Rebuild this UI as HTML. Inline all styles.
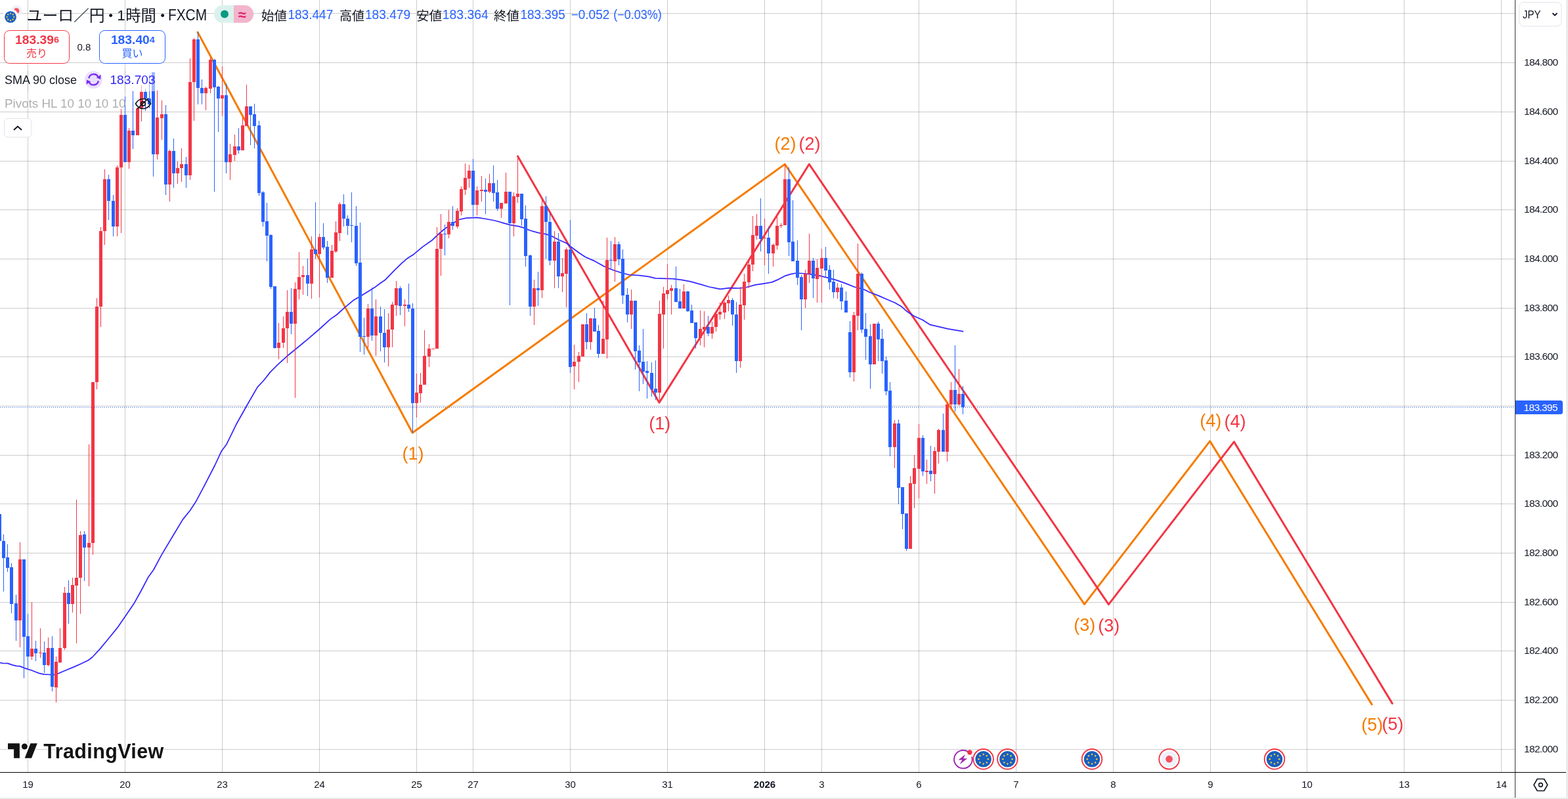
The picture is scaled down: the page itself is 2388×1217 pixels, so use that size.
<!DOCTYPE html>
<html lang="ja"><head><meta charset="utf-8"><title>EURJPY 1h</title>
<style>
html,body{margin:0;padding:0;background:#fff;}
body{width:2388px;height:1217px;overflow:hidden;position:relative;font-family:"Liberation Sans","Noto Sans CJK JP",sans-serif;color:#131722;}
.a{position:absolute;white-space:nowrap;}
.box{position:absolute;border:1px solid;border-radius:8px;box-sizing:border-box;text-align:center;background:#fff;}
.box .p{font-weight:bold;font-size:18px;line-height:20px;margin-top:5px;}
.box .l{font-size:16px;line-height:18px;margin-top:1px;}
</style></head><body>
<svg width="2388" height="1217" viewBox="0 0 2388 1217" style="position:absolute;left:0;top:0"><g fill="#000" fill-opacity="0.2"><rect x="0" y="20" width="2307" height="1"/><rect x="0" y="95" width="2307" height="1"/><rect x="0" y="170" width="2307" height="1"/><rect x="0" y="245" width="2307" height="1"/><rect x="0" y="319" width="2307" height="1"/><rect x="0" y="394" width="2307" height="1"/><rect x="0" y="469" width="2307" height="1"/><rect x="0" y="543" width="2307" height="1"/><rect x="0" y="618" width="2307" height="1"/><rect x="0" y="693" width="2307" height="1"/><rect x="0" y="767" width="2307" height="1"/><rect x="0" y="842" width="2307" height="1"/><rect x="0" y="917" width="2307" height="1"/><rect x="0" y="991" width="2307" height="1"/><rect x="0" y="1066" width="2307" height="1"/><rect x="0" y="1141" width="2307" height="1"/><rect x="42" y="0" width="1" height="1176"/><rect x="190" y="0" width="1" height="1176"/><rect x="338" y="0" width="1" height="1176"/><rect x="486" y="0" width="1" height="1176"/><rect x="634" y="0" width="1" height="1176"/><rect x="720" y="0" width="1" height="1176"/><rect x="868" y="0" width="1" height="1176"/><rect x="1016" y="0" width="1" height="1176"/><rect x="1164" y="0" width="1" height="1176"/><rect x="1251" y="0" width="1" height="1176"/><rect x="1399" y="0" width="1" height="1176"/><rect x="1547" y="0" width="1" height="1176"/><rect x="1695" y="0" width="1" height="1176"/><rect x="1843" y="0" width="1" height="1176"/><rect x="1990" y="0" width="1" height="1176"/><rect x="2138" y="0" width="1" height="1176"/><rect x="2286" y="0" width="1" height="1176"/></g><line x1="0" y1="620.5" x2="2307" y2="620.5" stroke="#2962FF" stroke-width="1" stroke-dasharray="1 2"/><polyline points="301,49 628.1,659.2 1195.3,250.1 1651.5,920.3 1842.7,671.9 2089.2,1072.9" fill="none" stroke="#F57C00" stroke-width="3" stroke-linejoin="round" stroke-linecap="round"/><polyline points="788.5,238 1004,613.2 1232.3,250.1 1688.4,920.7 1879.4,672.9 2120.3,1071.4" fill="none" stroke="#F23645" stroke-width="3" stroke-linejoin="round" stroke-linecap="round"/><polyline points="0.0,1009.4 5.4,1010.5 11.7,1010.4 18.8,1012.8 25.1,1014.3 30.6,1014.9 36.9,1017.4 42.7,1019.3 48.2,1021.0 54.4,1023.5 59.9,1025.6 67.0,1027.2 75.4,1027.5 82.9,1027.5 87.9,1026.2 94.2,1023.5 100.0,1021.0 113.0,1015.6 123.4,1011.0 134.3,1005.8 140.6,1001.0 152.1,988.6 163.6,974.8 178.6,956.4 190.1,939.7 203.9,919.6 214.8,900.0 225.9,878.9 233.8,868.0 245.8,845.6 262.0,818.5 278.3,791.4 289.1,778.0 298.2,764.3 312.6,737.2 327.1,709.0 337.2,687.3 345.2,676.4 359.6,646.8 375.9,617.8 392.1,589.6 401.2,580.0 411.5,566.9 423.0,555.4 436.8,542.8 455.2,527.8 469.0,516.3 485.1,502.5 503.5,485.9 512.7,479.5 524.2,469.1 538.0,457.6 549.5,450.7 561.0,443.8 570.2,438.1 579.4,431.2 586.3,426.6 600.1,412.3 611.6,401.2 620.8,393.2 630.0,387.4 643.8,375.9 657.6,366.3 666.9,357.5 676.0,349.5 687.6,341.4 699.0,334.5 710.1,332.1 726.9,331.4 740.3,333.5 753.7,336.0 765.4,339.3 777.1,342.7 790.5,344.8 797.2,346.9 807.3,351.0 819.0,354.4 832.4,356.9 840.8,359.9 850.8,365.3 862.5,370.3 870.9,377.0 881.0,384.5 891.0,391.2 904.4,397.1 919.5,405.5 931.2,410.5 946.3,415.5 958.0,418.5 974.8,419.7 988.2,421.4 998.2,423.9 1015.0,424.4 1025.0,424.7 1038.4,426.4 1051.8,428.9 1066.9,433.1 1080.0,437.0 1088.4,438.6 1096.8,440.3 1110.2,438.6 1126.9,439.0 1137.0,437.5 1150.4,433.9 1163.8,431.9 1175.5,429.9 1185.5,425.6 1195.6,420.2 1204.0,417.7 1212.3,416.0 1222.4,416.5 1234.1,417.7 1247.5,419.9 1260.9,423.2 1274.3,426.9 1287.7,431.6 1301.1,437.0 1314.5,440.3 1324.6,445.3 1338.0,450.4 1351.4,456.2 1363.1,461.2 1373.1,467.1 1381.5,474.6 1391.6,481.3 1405.0,487.2 1416.7,494.7 1431.8,498.1 1443.5,500.9 1456.9,503.1 1467.3,504.8" fill="none" stroke="#3326FF" stroke-width="1.75" stroke-linejoin="round"/><g fill="#F23645" shape-rendering="crispEdges"><rect x="30" y="825.8" width="1" height="160.0"/><rect x="28" y="852.0" width="5" height="92.7"/><rect x="48" y="917.0" width="1" height="87.7"/><rect x="46" y="988.4" width="5" height="11.6"/><rect x="61" y="956.8" width="1" height="45.2"/><rect x="59" y="993.7" width="5" height="1.3"/><rect x="73" y="971.0" width="1" height="43.7"/><rect x="71" y="987.0" width="5" height="26.4"/><rect x="85" y="1000.0" width="1" height="70.0"/><rect x="83" y="1008.0" width="5" height="38.8"/><rect x="91" y="957.0" width="1" height="52.7"/><rect x="89" y="986.6" width="5" height="22.4"/><rect x="98" y="894.0" width="1" height="95.5"/><rect x="96" y="903.0" width="5" height="84.4"/><rect x="110" y="879.5" width="1" height="53.5"/><rect x="108" y="891.0" width="5" height="28.7"/><rect x="116" y="761.0" width="1" height="218.5"/><rect x="114" y="879.5" width="5" height="12.3"/><rect x="122" y="809.0" width="1" height="125.7"/><rect x="120" y="814.5" width="5" height="65.5"/><rect x="135" y="677.4" width="1" height="215.2"/><rect x="133" y="827.4" width="5" height="6.3"/><rect x="141" y="581.6" width="1" height="263.1"/><rect x="139" y="581.6" width="5" height="245.8"/><rect x="147" y="454.0" width="1" height="138.6"/><rect x="145" y="467.3" width="5" height="114.7"/><rect x="153" y="346.0" width="1" height="151.6"/><rect x="151" y="351.5" width="5" height="115.8"/><rect x="159" y="258.0" width="1" height="114.6"/><rect x="157" y="273.0" width="5" height="78.5"/><rect x="178" y="251.7" width="1" height="108.0"/><rect x="176" y="255.4" width="5" height="89.6"/><rect x="184" y="166.0" width="1" height="188.5"/><rect x="182" y="175.0" width="5" height="80.4"/><rect x="196" y="195.0" width="1" height="62.0"/><rect x="194" y="199.0" width="5" height="47.8"/><rect x="209" y="164.0" width="1" height="41.8"/><rect x="207" y="165.0" width="5" height="40.8"/><rect x="215" y="129.8" width="1" height="55.2"/><rect x="213" y="139.8" width="5" height="25.2"/><rect x="239" y="138.3" width="1" height="104.6"/><rect x="237" y="179.0" width="5" height="55.7"/><rect x="246" y="153.0" width="1" height="60.0"/><rect x="244" y="174.0" width="5" height="5.6"/><rect x="258" y="228.4" width="1" height="78.3"/><rect x="256" y="229.8" width="5" height="51.0"/><rect x="270" y="246.0" width="1" height="34.0"/><rect x="268" y="255.9" width="5" height="7.8"/><rect x="276" y="226.0" width="1" height="51.0"/><rect x="274" y="249.7" width="5" height="6.7"/><rect x="289" y="89.0" width="1" height="184.5"/><rect x="287" y="125.4" width="5" height="141.9"/><rect x="295" y="58.2" width="1" height="125.3"/><rect x="293" y="59.9" width="5" height="65.5"/><rect x="313" y="131.8" width="1" height="35.9"/><rect x="311" y="134.2" width="5" height="7.6"/><rect x="320" y="86.6" width="1" height="55.2"/><rect x="318" y="91.0" width="5" height="43.6"/><rect x="338" y="101.0" width="1" height="76.0"/><rect x="336" y="145.0" width="5" height="5.0"/><rect x="350" y="218.9" width="1" height="54.6"/><rect x="348" y="234.9" width="5" height="11.9"/><rect x="357" y="205.0" width="1" height="40.0"/><rect x="355" y="223.0" width="5" height="13.0"/><rect x="369" y="179.4" width="1" height="49.3"/><rect x="367" y="191.0" width="5" height="37.7"/><rect x="375" y="129.0" width="1" height="62.7"/><rect x="373" y="162.0" width="5" height="29.5"/><rect x="424" y="492.0" width="1" height="54.7"/><rect x="422" y="522.4" width="5" height="7.1"/><rect x="431" y="482.4" width="1" height="47.6"/><rect x="429" y="500.0" width="5" height="22.4"/><rect x="437" y="442.0" width="1" height="110.6"/><rect x="435" y="475.0" width="5" height="25.0"/><rect x="449" y="429.5" width="1" height="176.0"/><rect x="447" y="440.0" width="5" height="52.9"/><rect x="455" y="384.3" width="1" height="71.9"/><rect x="453" y="422.0" width="5" height="18.7"/><rect x="461" y="405.0" width="1" height="43.6"/><rect x="459" y="419.0" width="5" height="3.4"/><rect x="474" y="359.8" width="1" height="94.7"/><rect x="472" y="380.0" width="5" height="52.4"/><rect x="486" y="356.0" width="1" height="96.6"/><rect x="484" y="361.0" width="5" height="25.7"/><rect x="505" y="373.2" width="1" height="49.5"/><rect x="503" y="382.4" width="5" height="40.3"/><rect x="511" y="337.0" width="1" height="47.7"/><rect x="509" y="354.0" width="5" height="28.9"/><rect x="517" y="308.0" width="1" height="59.0"/><rect x="515" y="311.0" width="5" height="43.8"/><rect x="560" y="463.0" width="1" height="67.0"/><rect x="558" y="470.0" width="5" height="42.8"/><rect x="572" y="456.2" width="1" height="86.2"/><rect x="570" y="482.4" width="5" height="28.4"/><rect x="591" y="477.0" width="1" height="80.8"/><rect x="589" y="501.6" width="5" height="27.0"/><rect x="597" y="459.8" width="1" height="69.2"/><rect x="595" y="464.0" width="5" height="37.6"/><rect x="603" y="428.2" width="1" height="52.7"/><rect x="601" y="439.0" width="5" height="25.7"/><rect x="616" y="456.2" width="1" height="40.4"/><rect x="614" y="464.0" width="5" height="1.5"/><rect x="634" y="569.0" width="1" height="66.8"/><rect x="632" y="598.0" width="5" height="16.2"/><rect x="640" y="567.8" width="1" height="45.2"/><rect x="638" y="585.5" width="5" height="13.3"/><rect x="646" y="503.3" width="1" height="82.2"/><rect x="644" y="542.0" width="5" height="43.5"/><rect x="653" y="524.0" width="1" height="34.9"/><rect x="651" y="530.8" width="5" height="11.8"/><rect x="659" y="530.8" width="1" height="1.2"/><rect x="657" y="530.8" width="5" height="1.2"/><rect x="665" y="345.9" width="1" height="185.5"/><rect x="663" y="379.3" width="5" height="152.1"/><rect x="671" y="326.0" width="1" height="93.8"/><rect x="669" y="356.2" width="5" height="23.1"/><rect x="683" y="320.0" width="1" height="42.7"/><rect x="681" y="337.9" width="5" height="18.9"/><rect x="696" y="317.3" width="1" height="30.5"/><rect x="694" y="321.0" width="5" height="23.6"/><rect x="702" y="284.0" width="1" height="44.0"/><rect x="700" y="288.2" width="5" height="33.3"/><rect x="708" y="249.0" width="1" height="47.9"/><rect x="706" y="271.2" width="5" height="17.7"/><rect x="714" y="251.0" width="1" height="34.7"/><rect x="712" y="260.0" width="5" height="11.6"/><rect x="726" y="284.0" width="1" height="44.0"/><rect x="724" y="290.2" width="5" height="21.5"/><rect x="733" y="268.0" width="1" height="38.7"/><rect x="731" y="289.2" width="5" height="1.5"/><rect x="745" y="265.0" width="1" height="28.6"/><rect x="743" y="279.0" width="5" height="12.8"/><rect x="763" y="309.0" width="1" height="22.8"/><rect x="761" y="309.0" width="5" height="8.6"/><rect x="770" y="263.1" width="1" height="46.4"/><rect x="768" y="292.1" width="5" height="17.4"/><rect x="782" y="293.0" width="1" height="67.4"/><rect x="780" y="299.2" width="5" height="40.5"/><rect x="788" y="239.3" width="1" height="69.4"/><rect x="786" y="295.3" width="5" height="4.3"/><rect x="813" y="426.0" width="1" height="68.8"/><rect x="811" y="439.0" width="5" height="27.5"/><rect x="825" y="305.3" width="1" height="148.2"/><rect x="823" y="314.0" width="5" height="128.3"/><rect x="844" y="352.4" width="1" height="87.0"/><rect x="842" y="368.0" width="5" height="28.6"/><rect x="856" y="393.4" width="1" height="51.3"/><rect x="854" y="415.9" width="5" height="4.9"/><rect x="862" y="377.0" width="1" height="90.8"/><rect x="860" y="380.0" width="5" height="36.5"/><rect x="874" y="524.8" width="1" height="68.0"/><rect x="872" y="550.5" width="5" height="7.9"/><rect x="881" y="536.0" width="1" height="45.5"/><rect x="879" y="542.0" width="5" height="8.5"/><rect x="887" y="493.8" width="1" height="49.2"/><rect x="885" y="493.8" width="5" height="48.8"/><rect x="899" y="483.6" width="1" height="49.8"/><rect x="897" y="484.9" width="5" height="35.7"/><rect x="918" y="457.5" width="1" height="81.2"/><rect x="916" y="516.3" width="5" height="22.4"/><rect x="924" y="362.0" width="1" height="183.6"/><rect x="922" y="396.2" width="5" height="120.5"/><rect x="936" y="360.8" width="1" height="67.9"/><rect x="934" y="372.2" width="5" height="25.4"/><rect x="961" y="441.0" width="1" height="59.8"/><rect x="959" y="458.2" width="5" height="20.4"/><rect x="1004" y="458.1" width="1" height="152.6"/><rect x="1002" y="478.1" width="5" height="119.6"/><rect x="1010" y="437.3" width="1" height="93.5"/><rect x="1008" y="447.0" width="5" height="31.5"/><rect x="1016" y="402.2" width="1" height="53.5"/><rect x="1014" y="442.1" width="5" height="5.7"/><rect x="1022" y="434.0" width="1" height="44.8"/><rect x="1020" y="439.2" width="5" height="3.7"/><rect x="1041" y="433.0" width="1" height="36.8"/><rect x="1039" y="444.0" width="5" height="25.8"/><rect x="1066" y="472.9" width="1" height="52.8"/><rect x="1064" y="501.3" width="5" height="14.1"/><rect x="1072" y="474.0" width="1" height="54.7"/><rect x="1070" y="498.3" width="5" height="3.7"/><rect x="1084" y="490.0" width="1" height="25.6"/><rect x="1082" y="498.0" width="5" height="9.6"/><rect x="1090" y="477.0" width="1" height="27.8"/><rect x="1088" y="478.1" width="5" height="20.3"/><rect x="1096" y="460.6" width="1" height="26.1"/><rect x="1094" y="475.3" width="5" height="3.2"/><rect x="1103" y="458.9" width="1" height="26.7"/><rect x="1101" y="461.0" width="5" height="14.6"/><rect x="1109" y="449.9" width="1" height="24.4"/><rect x="1107" y="457.4" width="5" height="4.1"/><rect x="1127" y="436.5" width="1" height="123.2"/><rect x="1125" y="464.2" width="5" height="85.5"/><rect x="1133" y="417.2" width="1" height="69.5"/><rect x="1131" y="429.4" width="5" height="35.3"/><rect x="1140" y="398.6" width="1" height="40.0"/><rect x="1138" y="403.3" width="5" height="26.7"/><rect x="1146" y="329.0" width="1" height="84.0"/><rect x="1144" y="358.0" width="5" height="45.3"/><rect x="1152" y="326.0" width="1" height="39.2"/><rect x="1150" y="344.2" width="5" height="14.3"/><rect x="1164" y="333.0" width="1" height="71.0"/><rect x="1162" y="361.8" width="5" height="1.2"/><rect x="1177" y="371.4" width="1" height="34.2"/><rect x="1175" y="372.9" width="5" height="12.8"/><rect x="1183" y="329.7" width="1" height="50.3"/><rect x="1181" y="344.3" width="5" height="29.7"/><rect x="1189" y="340.0" width="1" height="7.3"/><rect x="1187" y="342.6" width="5" height="1.4"/><rect x="1195" y="249.6" width="1" height="93.4"/><rect x="1193" y="273.1" width="5" height="69.9"/><rect x="1226" y="411.0" width="1" height="57.8"/><rect x="1224" y="417.0" width="5" height="38.6"/><rect x="1232" y="356.3" width="1" height="74.3"/><rect x="1230" y="397.0" width="5" height="20.4"/><rect x="1244" y="395.0" width="1" height="65.8"/><rect x="1242" y="408.2" width="5" height="16.4"/><rect x="1251" y="379.2" width="1" height="81.6"/><rect x="1249" y="393.0" width="5" height="15.8"/><rect x="1275" y="430.9" width="1" height="23.6"/><rect x="1273" y="438.4" width="5" height="6.3"/><rect x="1300" y="475.4" width="1" height="105.1"/><rect x="1298" y="480.1" width="5" height="86.6"/><rect x="1306" y="371.1" width="1" height="131.6"/><rect x="1304" y="417.3" width="5" height="63.4"/><rect x="1331" y="492.5" width="1" height="62.4"/><rect x="1329" y="493.1" width="5" height="61.8"/><rect x="1362" y="640.2" width="1" height="72.5"/><rect x="1360" y="644.8" width="5" height="36.1"/><rect x="1386" y="725.3" width="1" height="110.5"/><rect x="1384" y="736.1" width="5" height="99.7"/><rect x="1392" y="693.1" width="1" height="80.5"/><rect x="1390" y="713.1" width="5" height="23.7"/><rect x="1399" y="645.9" width="1" height="113.2"/><rect x="1397" y="667.1" width="5" height="46.7"/><rect x="1411" y="700.0" width="1" height="36.8"/><rect x="1409" y="717.3" width="5" height="1.8"/><rect x="1423" y="681.3" width="1" height="70.5"/><rect x="1421" y="687.0" width="5" height="34.9"/><rect x="1429" y="652.8" width="1" height="52.9"/><rect x="1427" y="654.8" width="5" height="32.8"/><rect x="1442" y="613.4" width="1" height="89.4"/><rect x="1440" y="616.0" width="5" height="71.6"/><rect x="1448" y="582.0" width="1" height="40.0"/><rect x="1446" y="594.0" width="5" height="22.3"/><rect x="1460" y="561.7" width="1" height="56.1"/><rect x="1458" y="600.0" width="5" height="15.5"/></g><g fill="#2962FF" shape-rendering="crispEdges"><rect x="-1" y="783.0" width="1" height="41.0"/><rect x="-3" y="783.0" width="5" height="41.0"/><rect x="5" y="814.0" width="1" height="87.0"/><rect x="3" y="824.0" width="5" height="25.5"/><rect x="11" y="829.0" width="1" height="41.5"/><rect x="9" y="849.0" width="5" height="15.7"/><rect x="17" y="858.0" width="1" height="75.7"/><rect x="15" y="864.0" width="5" height="55.7"/><rect x="24" y="906.0" width="1" height="69.8"/><rect x="22" y="919.0" width="5" height="25.7"/><rect x="36" y="852.0" width="1" height="181.0"/><rect x="34" y="852.0" width="5" height="117.7"/><rect x="42" y="935.0" width="1" height="83.0"/><rect x="40" y="969.0" width="5" height="31.0"/><rect x="54" y="976.0" width="1" height="31.0"/><rect x="52" y="988.0" width="5" height="6.7"/><rect x="67" y="977.0" width="1" height="47.5"/><rect x="65" y="994.0" width="5" height="18.6"/><rect x="79" y="969.0" width="1" height="83.6"/><rect x="77" y="987.0" width="5" height="59.0"/><rect x="104" y="884.0" width="1" height="66.0"/><rect x="102" y="903.0" width="5" height="16.7"/><rect x="128" y="809.0" width="1" height="75.7"/><rect x="126" y="814.0" width="5" height="19.7"/><rect x="165" y="265.8" width="1" height="69.2"/><rect x="163" y="273.0" width="5" height="33.4"/><rect x="172" y="296.8" width="1" height="62.9"/><rect x="170" y="306.4" width="5" height="38.6"/><rect x="190" y="147.0" width="1" height="99.8"/><rect x="188" y="175.0" width="5" height="71.8"/><rect x="202" y="138.0" width="1" height="89.0"/><rect x="200" y="199.0" width="5" height="6.8"/><rect x="221" y="135.2" width="1" height="33.5"/><rect x="219" y="139.8" width="5" height="10.2"/><rect x="227" y="113.6" width="1" height="51.2"/><rect x="225" y="150.0" width="5" height="8.6"/><rect x="233" y="110.0" width="1" height="159.0"/><rect x="231" y="110.0" width="5" height="124.7"/><rect x="252" y="160.0" width="1" height="136.7"/><rect x="250" y="174.0" width="5" height="106.8"/><rect x="264" y="211.0" width="1" height="75.0"/><rect x="262" y="229.8" width="5" height="33.9"/><rect x="283" y="239.0" width="1" height="46.8"/><rect x="281" y="250.3" width="5" height="17.0"/><rect x="301" y="49.0" width="1" height="109.5"/><rect x="299" y="59.9" width="5" height="74.3"/><rect x="307" y="120.9" width="1" height="37.6"/><rect x="305" y="134.2" width="5" height="7.6"/><rect x="326" y="90.0" width="1" height="202.0"/><rect x="324" y="91.0" width="5" height="42.2"/><rect x="332" y="131.0" width="1" height="70.0"/><rect x="330" y="132.2" width="5" height="17.8"/><rect x="344" y="127.0" width="1" height="136.6"/><rect x="342" y="145.0" width="5" height="101.8"/><rect x="363" y="194.8" width="1" height="39.1"/><rect x="361" y="223.0" width="5" height="5.7"/><rect x="381" y="162.2" width="1" height="59.1"/><rect x="379" y="162.2" width="5" height="12.3"/><rect x="387" y="157.7" width="1" height="68.1"/><rect x="385" y="174.0" width="5" height="17.8"/><rect x="394" y="183.9" width="1" height="113.8"/><rect x="392" y="191.0" width="5" height="103.0"/><rect x="400" y="290.8" width="1" height="53.8"/><rect x="398" y="292.8" width="5" height="44.9"/><rect x="406" y="309.0" width="1" height="88.8"/><rect x="404" y="337.2" width="5" height="21.4"/><rect x="412" y="357.0" width="1" height="83.0"/><rect x="410" y="358.0" width="5" height="78.5"/><rect x="418" y="436.4" width="1" height="94.6"/><rect x="416" y="436.4" width="5" height="93.1"/><rect x="443" y="439.0" width="1" height="69.6"/><rect x="441" y="475.0" width="5" height="17.9"/><rect x="468" y="393.8" width="1" height="56.9"/><rect x="466" y="419.0" width="5" height="13.4"/><rect x="480" y="308.0" width="1" height="86.0"/><rect x="478" y="380.0" width="5" height="6.7"/><rect x="492" y="340.0" width="1" height="40.0"/><rect x="490" y="361.0" width="5" height="15.5"/><rect x="498" y="367.0" width="1" height="63.7"/><rect x="496" y="376.0" width="5" height="46.7"/><rect x="523" y="296.0" width="1" height="49.0"/><rect x="521" y="311.0" width="5" height="21.5"/><rect x="529" y="328.3" width="1" height="29.5"/><rect x="527" y="332.5" width="5" height="11.2"/><rect x="535" y="293.0" width="1" height="75.6"/><rect x="533" y="342.6" width="5" height="1.2"/><rect x="542" y="314.0" width="1" height="91.4"/><rect x="540" y="344.0" width="5" height="56.8"/><rect x="548" y="338.7" width="1" height="197.3"/><rect x="546" y="400.0" width="5" height="112.6"/><rect x="554" y="483.7" width="1" height="56.3"/><rect x="552" y="512.0" width="5" height="1.2"/><rect x="566" y="437.9" width="1" height="81.4"/><rect x="564" y="470.0" width="5" height="40.8"/><rect x="579" y="467.0" width="1" height="68.0"/><rect x="577" y="482.4" width="5" height="24.1"/><rect x="585" y="471.0" width="1" height="80.9"/><rect x="583" y="506.5" width="5" height="22.1"/><rect x="609" y="436.0" width="1" height="44.0"/><rect x="607" y="439.0" width="5" height="26.5"/><rect x="622" y="432.0" width="1" height="43.0"/><rect x="620" y="464.0" width="5" height="6.4"/><rect x="628" y="462.0" width="1" height="197.0"/><rect x="626" y="470.0" width="5" height="144.4"/><rect x="677" y="342.0" width="1" height="46.8"/><rect x="675" y="355.6" width="5" height="1.2"/><rect x="689" y="314.0" width="1" height="35.7"/><rect x="687" y="337.7" width="5" height="6.7"/><rect x="720" y="242.0" width="1" height="87.6"/><rect x="718" y="260.0" width="5" height="51.7"/><rect x="739" y="272.2" width="1" height="53.5"/><rect x="737" y="289.2" width="5" height="2.4"/><rect x="751" y="252.2" width="1" height="54.5"/><rect x="749" y="279.0" width="5" height="14.6"/><rect x="757" y="274.0" width="1" height="46.7"/><rect x="755" y="293.1" width="5" height="24.5"/><rect x="776" y="292.1" width="1" height="173.2"/><rect x="774" y="292.1" width="5" height="47.5"/><rect x="794" y="295.2" width="1" height="49.0"/><rect x="792" y="295.3" width="5" height="38.4"/><rect x="800" y="313.0" width="1" height="92.6"/><rect x="798" y="333.3" width="5" height="56.4"/><rect x="807" y="387.6" width="1" height="93.0"/><rect x="805" y="389.4" width="5" height="77.1"/><rect x="819" y="414.0" width="1" height="51.8"/><rect x="817" y="439.0" width="5" height="3.3"/><rect x="831" y="299.0" width="1" height="94.9"/><rect x="829" y="314.0" width="5" height="23.5"/><rect x="837" y="324.3" width="1" height="79.5"/><rect x="835" y="337.5" width="5" height="59.1"/><rect x="850" y="354.5" width="1" height="84.9"/><rect x="848" y="368.0" width="5" height="52.7"/><rect x="868" y="334.7" width="1" height="232.9"/><rect x="866" y="380.0" width="5" height="179.0"/><rect x="893" y="477.2" width="1" height="54.5"/><rect x="891" y="493.8" width="5" height="26.8"/><rect x="905" y="469.3" width="1" height="35.2"/><rect x="903" y="484.9" width="5" height="19.6"/><rect x="911" y="495.0" width="1" height="49.7"/><rect x="909" y="504.0" width="5" height="34.7"/><rect x="930" y="366.8" width="1" height="42.2"/><rect x="928" y="396.2" width="5" height="1.2"/><rect x="942" y="368.0" width="1" height="36.4"/><rect x="940" y="372.2" width="5" height="22.3"/><rect x="948" y="380.0" width="1" height="82.6"/><rect x="946" y="394.3" width="5" height="55.5"/><rect x="955" y="438.7" width="1" height="52.1"/><rect x="953" y="449.1" width="5" height="29.5"/><rect x="967" y="458.2" width="1" height="104.7"/><rect x="965" y="458.2" width="5" height="76.3"/><rect x="973" y="526.3" width="1" height="69.4"/><rect x="971" y="534.0" width="5" height="17.8"/><rect x="979" y="500.8" width="1" height="83.8"/><rect x="977" y="551.1" width="5" height="14.4"/><rect x="985" y="550.2" width="1" height="57.2"/><rect x="983" y="564.6" width="5" height="3.8"/><rect x="992" y="551.8" width="1" height="52.0"/><rect x="990" y="568.0" width="5" height="24.5"/><rect x="998" y="548.9" width="1" height="59.6"/><rect x="996" y="592.1" width="5" height="5.6"/><rect x="1029" y="405.9" width="1" height="54.0"/><rect x="1027" y="439.2" width="5" height="20.7"/><rect x="1035" y="439.9" width="1" height="29.9"/><rect x="1033" y="459.1" width="5" height="10.7"/><rect x="1047" y="442.9" width="1" height="31.8"/><rect x="1045" y="444.0" width="5" height="30.2"/><rect x="1053" y="464.0" width="1" height="27.7"/><rect x="1051" y="473.2" width="5" height="18.5"/><rect x="1059" y="491.2" width="1" height="39.7"/><rect x="1057" y="491.2" width="5" height="24.2"/><rect x="1078" y="481.3" width="1" height="30.4"/><rect x="1076" y="498.3" width="5" height="9.2"/><rect x="1115" y="454.2" width="1" height="41.4"/><rect x="1113" y="457.4" width="5" height="21.8"/><rect x="1121" y="460.0" width="1" height="107.9"/><rect x="1119" y="479.2" width="5" height="70.5"/><rect x="1158" y="302.0" width="1" height="80.6"/><rect x="1156" y="344.2" width="5" height="19.4"/><rect x="1170" y="344.7" width="1" height="72.7"/><rect x="1168" y="362.0" width="5" height="23.7"/><rect x="1201" y="255.0" width="1" height="134.6"/><rect x="1199" y="273.1" width="5" height="95.5"/><rect x="1207" y="305.2" width="1" height="92.5"/><rect x="1205" y="368.2" width="5" height="29.5"/><rect x="1214" y="366.1" width="1" height="67.5"/><rect x="1212" y="397.0" width="5" height="25.7"/><rect x="1220" y="419.4" width="1" height="83.5"/><rect x="1218" y="422.0" width="5" height="33.6"/><rect x="1238" y="392.9" width="1" height="60.7"/><rect x="1236" y="397.0" width="5" height="27.4"/><rect x="1257" y="376.0" width="1" height="45.0"/><rect x="1255" y="393.0" width="5" height="18.5"/><rect x="1263" y="404.2" width="1" height="36.5"/><rect x="1261" y="411.1" width="5" height="18.8"/><rect x="1269" y="411.0" width="1" height="42.5"/><rect x="1267" y="428.9" width="5" height="15.8"/><rect x="1281" y="433.2" width="1" height="39.1"/><rect x="1279" y="438.2" width="5" height="20.3"/><rect x="1288" y="444.3" width="1" height="31.9"/><rect x="1286" y="458.2" width="5" height="17.6"/><rect x="1294" y="489.2" width="1" height="85.4"/><rect x="1292" y="506.3" width="5" height="60.4"/><rect x="1312" y="414.5" width="1" height="92.5"/><rect x="1310" y="417.3" width="5" height="84.4"/><rect x="1318" y="477.1" width="1" height="70.9"/><rect x="1316" y="501.0" width="5" height="11.8"/><rect x="1325" y="494.2" width="1" height="97.6"/><rect x="1323" y="512.1" width="5" height="42.8"/><rect x="1337" y="490.0" width="1" height="59.7"/><rect x="1335" y="493.1" width="5" height="23.5"/><rect x="1343" y="501.0" width="1" height="68.0"/><rect x="1341" y="516.0" width="5" height="33.7"/><rect x="1349" y="543.3" width="1" height="58.6"/><rect x="1347" y="549.1" width="5" height="46.6"/><rect x="1355" y="582.1" width="1" height="113.3"/><rect x="1353" y="595.3" width="5" height="85.6"/><rect x="1368" y="639.0" width="1" height="129.3"/><rect x="1366" y="644.8" width="5" height="97.8"/><rect x="1374" y="742.1" width="1" height="63.7"/><rect x="1372" y="742.1" width="5" height="40.7"/><rect x="1380" y="782.1" width="1" height="56.7"/><rect x="1378" y="782.1" width="5" height="53.7"/><rect x="1405" y="663.2" width="1" height="61.4"/><rect x="1403" y="667.1" width="5" height="51.3"/><rect x="1417" y="679.2" width="1" height="53.7"/><rect x="1415" y="717.3" width="5" height="4.6"/><rect x="1436" y="629.8" width="1" height="58.6"/><rect x="1434" y="654.8" width="5" height="32.8"/><rect x="1454" y="525.9" width="1" height="101.0"/><rect x="1452" y="594.0" width="5" height="21.5"/><rect x="1466" y="588.0" width="1" height="42.7"/><rect x="1464" y="600.0" width="5" height="20.3"/></g><rect x="0" y="108" width="237" height="31" fill="#fff" fill-opacity="0.55"/><rect x="190" y="108" width="1" height="31" fill="#000" fill-opacity="0.2"/><rect x="42" y="108" width="1" height="31" fill="#000" fill-opacity="0.2"/><text x="629" y="700.2" fill="#F57C00" font-size="27" text-anchor="middle" font-family="Liberation Sans, sans-serif">(1)</text><text x="1195.9" y="228.2" fill="#F57C00" font-size="27" text-anchor="middle" font-family="Liberation Sans, sans-serif">(2)</text><text x="1651.8" y="960.9" fill="#F57C00" font-size="27" text-anchor="middle" font-family="Liberation Sans, sans-serif">(3)</text><text x="1843.7" y="650.1" fill="#F57C00" font-size="27" text-anchor="middle" font-family="Liberation Sans, sans-serif">(4)</text><text x="2089.7" y="1113.1" fill="#F57C00" font-size="27" text-anchor="middle" font-family="Liberation Sans, sans-serif">(5)</text><text x="1004.7" y="654.0" fill="#F23645" font-size="27" text-anchor="middle" font-family="Liberation Sans, sans-serif">(1)</text><text x="1232.9" y="228.2" fill="#F23645" font-size="27" text-anchor="middle" font-family="Liberation Sans, sans-serif">(2)</text><text x="1688.8" y="962.4" fill="#F23645" font-size="27" text-anchor="middle" font-family="Liberation Sans, sans-serif">(3)</text><text x="1881" y="651.0" fill="#F23645" font-size="27" text-anchor="middle" font-family="Liberation Sans, sans-serif">(4)</text><text x="2121" y="1112.1" fill="#F23645" font-size="27" text-anchor="middle" font-family="Liberation Sans, sans-serif">(5)</text><rect x="2307" y="0" width="1" height="1215" fill="#363636"/><rect x="0" y="1176" width="2385" height="1" fill="#000"/><rect x="2385" y="0" width="3" height="1217" fill="#ebebeb"/><rect x="0" y="1215" width="2388" height="2" fill="#ebebeb"/><text x="2373" y="100.1" fill="#131722" font-size="15.5" textLength="52" text-anchor="end" font-family="Liberation Sans, sans-serif">184.800</text><text x="2373" y="175.1" fill="#131722" font-size="15.5" textLength="52" text-anchor="end" font-family="Liberation Sans, sans-serif">184.600</text><text x="2373" y="250.1" fill="#131722" font-size="15.5" textLength="52" text-anchor="end" font-family="Liberation Sans, sans-serif">184.400</text><text x="2373" y="324.1" fill="#131722" font-size="15.5" textLength="52" text-anchor="end" font-family="Liberation Sans, sans-serif">184.200</text><text x="2373" y="399.1" fill="#131722" font-size="15.5" textLength="52" text-anchor="end" font-family="Liberation Sans, sans-serif">184.000</text><text x="2373" y="474.1" fill="#131722" font-size="15.5" textLength="52" text-anchor="end" font-family="Liberation Sans, sans-serif">183.800</text><text x="2373" y="548.1" fill="#131722" font-size="15.5" textLength="52" text-anchor="end" font-family="Liberation Sans, sans-serif">183.600</text><text x="2373" y="698.1" fill="#131722" font-size="15.5" textLength="52" text-anchor="end" font-family="Liberation Sans, sans-serif">183.200</text><text x="2373" y="772.1" fill="#131722" font-size="15.5" textLength="52" text-anchor="end" font-family="Liberation Sans, sans-serif">183.000</text><text x="2373" y="847.1" fill="#131722" font-size="15.5" textLength="52" text-anchor="end" font-family="Liberation Sans, sans-serif">182.800</text><text x="2373" y="922.1" fill="#131722" font-size="15.5" textLength="52" text-anchor="end" font-family="Liberation Sans, sans-serif">182.600</text><text x="2373" y="996.1" fill="#131722" font-size="15.5" textLength="52" text-anchor="end" font-family="Liberation Sans, sans-serif">182.400</text><text x="2373" y="1071.1" fill="#131722" font-size="15.5" textLength="52" text-anchor="end" font-family="Liberation Sans, sans-serif">182.200</text><text x="2373" y="1146.1" fill="#131722" font-size="15.5" textLength="52" text-anchor="end" font-family="Liberation Sans, sans-serif">182.000</text><path d="M2308,610 H2376.5 a3.5,3.5 0 0 1 3.5,3.5 V627.5 a3.5,3.5 0 0 1 -3.5,3.5 H2308 Z" fill="#2962FF"/><text x="2372.5" y="626" fill="#fff" font-size="15.5" textLength="52" text-anchor="end" font-family="Liberation Sans, sans-serif">183.395</text><text x="42.5" y="1200" fill="#131722" font-size="15" text-anchor="middle" font-family="Liberation Sans, sans-serif">19</text><text x="190.5" y="1200" fill="#131722" font-size="15" text-anchor="middle" font-family="Liberation Sans, sans-serif">20</text><text x="338.5" y="1200" fill="#131722" font-size="15" text-anchor="middle" font-family="Liberation Sans, sans-serif">23</text><text x="486.5" y="1200" fill="#131722" font-size="15" text-anchor="middle" font-family="Liberation Sans, sans-serif">24</text><text x="634.5" y="1200" fill="#131722" font-size="15" text-anchor="middle" font-family="Liberation Sans, sans-serif">25</text><text x="720.5" y="1200" fill="#131722" font-size="15" text-anchor="middle" font-family="Liberation Sans, sans-serif">27</text><text x="868.5" y="1200" fill="#131722" font-size="15" text-anchor="middle" font-family="Liberation Sans, sans-serif">30</text><text x="1016.5" y="1200" fill="#131722" font-size="15" text-anchor="middle" font-family="Liberation Sans, sans-serif">31</text><text x="1164.5" y="1200" fill="#131722" font-size="15" font-weight="bold" text-anchor="middle" font-family="Liberation Sans, sans-serif">2026</text><text x="1251.5" y="1200" fill="#131722" font-size="15" text-anchor="middle" font-family="Liberation Sans, sans-serif">3</text><text x="1399.5" y="1200" fill="#131722" font-size="15" text-anchor="middle" font-family="Liberation Sans, sans-serif">6</text><text x="1547.5" y="1200" fill="#131722" font-size="15" text-anchor="middle" font-family="Liberation Sans, sans-serif">7</text><text x="1695.5" y="1200" fill="#131722" font-size="15" text-anchor="middle" font-family="Liberation Sans, sans-serif">8</text><text x="1843.5" y="1200" fill="#131722" font-size="15" text-anchor="middle" font-family="Liberation Sans, sans-serif">9</text><text x="1990.5" y="1200" fill="#131722" font-size="15" text-anchor="middle" font-family="Liberation Sans, sans-serif">10</text><text x="2138.5" y="1200" fill="#131722" font-size="15" text-anchor="middle" font-family="Liberation Sans, sans-serif">13</text><text x="2286.5" y="1200" fill="#131722" font-size="15" text-anchor="middle" font-family="Liberation Sans, sans-serif">14</text><polygon points="2356.8,1195.5 2351.6,1204.5 2341.2,1204.5 2336.0,1195.5 2341.2,1186.5 2351.6,1186.5" fill="none" stroke="#131722" stroke-width="1.6" stroke-linejoin="round"/><circle cx="2346.4" cy="1195.5" r="2.9" fill="none" stroke="#131722" stroke-width="1.6"/><circle cx="1497.6" cy="1156.3" r="15.3" fill="#fff" stroke="#F23645" stroke-width="1.9"/><circle cx="1497.6" cy="1156.3" r="12.2" fill="#1a5fbd"/><circle cx="1504.8" cy="1156.3" r="1.25" fill="#f2d13b"/><circle cx="1502.7" cy="1161.4" r="1.25" fill="#f2d13b"/><circle cx="1497.6" cy="1163.5" r="1.25" fill="#f2d13b"/><circle cx="1492.5" cy="1161.4" r="1.25" fill="#f2d13b"/><circle cx="1490.4" cy="1156.3" r="1.25" fill="#f2d13b"/><circle cx="1492.5" cy="1151.2" r="1.25" fill="#f2d13b"/><circle cx="1497.6" cy="1149.1" r="1.25" fill="#f2d13b"/><circle cx="1502.7" cy="1151.2" r="1.25" fill="#f2d13b"/><circle cx="1534.4" cy="1156.3" r="15.3" fill="#fff" stroke="#F23645" stroke-width="1.9"/><circle cx="1534.4" cy="1156.3" r="12.2" fill="#1a5fbd"/><circle cx="1541.6" cy="1156.3" r="1.25" fill="#f2d13b"/><circle cx="1539.5" cy="1161.4" r="1.25" fill="#f2d13b"/><circle cx="1534.4" cy="1163.5" r="1.25" fill="#f2d13b"/><circle cx="1529.3" cy="1161.4" r="1.25" fill="#f2d13b"/><circle cx="1527.2" cy="1156.3" r="1.25" fill="#f2d13b"/><circle cx="1529.3" cy="1151.2" r="1.25" fill="#f2d13b"/><circle cx="1534.4" cy="1149.1" r="1.25" fill="#f2d13b"/><circle cx="1539.5" cy="1151.2" r="1.25" fill="#f2d13b"/><circle cx="1663" cy="1156.3" r="15.3" fill="#fff" stroke="#F23645" stroke-width="1.9"/><circle cx="1663" cy="1156.3" r="12.2" fill="#1a5fbd"/><circle cx="1670.2" cy="1156.3" r="1.25" fill="#f2d13b"/><circle cx="1668.1" cy="1161.4" r="1.25" fill="#f2d13b"/><circle cx="1663.0" cy="1163.5" r="1.25" fill="#f2d13b"/><circle cx="1657.9" cy="1161.4" r="1.25" fill="#f2d13b"/><circle cx="1655.8" cy="1156.3" r="1.25" fill="#f2d13b"/><circle cx="1657.9" cy="1151.2" r="1.25" fill="#f2d13b"/><circle cx="1663.0" cy="1149.1" r="1.25" fill="#f2d13b"/><circle cx="1668.1" cy="1151.2" r="1.25" fill="#f2d13b"/><circle cx="1941" cy="1156.3" r="15.3" fill="#fff" stroke="#F23645" stroke-width="1.9"/><circle cx="1941" cy="1156.3" r="12.2" fill="#1a5fbd"/><circle cx="1948.2" cy="1156.3" r="1.25" fill="#f2d13b"/><circle cx="1946.1" cy="1161.4" r="1.25" fill="#f2d13b"/><circle cx="1941.0" cy="1163.5" r="1.25" fill="#f2d13b"/><circle cx="1935.9" cy="1161.4" r="1.25" fill="#f2d13b"/><circle cx="1933.8" cy="1156.3" r="1.25" fill="#f2d13b"/><circle cx="1935.9" cy="1151.2" r="1.25" fill="#f2d13b"/><circle cx="1941.0" cy="1149.1" r="1.25" fill="#f2d13b"/><circle cx="1946.1" cy="1151.2" r="1.25" fill="#f2d13b"/><circle cx="1780.6" cy="1156.2" r="15.3" fill="#fff" stroke="#F23645" stroke-width="1.9"/><circle cx="1780.6" cy="1156.2" r="11.8" fill="#edf1f9"/><circle cx="1780.6" cy="1156.2" r="5.4" fill="#f5525f"/><circle cx="1466" cy="1156.4" r="14.5" fill="#fff"/><path d="M1475.2,1145.6 A13.8,13.8 0 1 0 1480.1,1152.6" fill="none" stroke="#9c27b0" stroke-width="1.9"/><circle cx="1476.8" cy="1146" r="3.7" fill="#F23645"/><path d="M1470.3,1149 L1459.4,1157.4 L1465.5,1157.4 L1461.4,1164.5 L1473.2,1155.2 L1467.2,1155.2 Z" fill="#9c27b0"/><g fill="#131313" stroke="#fff" stroke-width="3" paint-order="stroke"><path d="M12,1132.3 H29.9 V1154.7 H21.1 V1141.3 H12 Z"/><circle cx="37.4" cy="1137" r="4.5"/><path d="M46.5,1132.3 H56.8 L48,1154.7 H37.7 Z"/></g><text x="66.3" y="1154.7" fill="#131313" stroke="#fff" stroke-width="3" paint-order="stroke" font-size="30.5" font-weight="bold" textLength="183" font-family="Liberation Sans, sans-serif">TradingView</text><circle cx="25.1" cy="16.6" r="8.5" fill="#edf1f9"/><circle cx="25.1" cy="16.6" r="4.4" fill="#f5515f"/><circle cx="16" cy="25.9" r="12.4" fill="#fff"/><circle cx="16" cy="25.9" r="8.9" fill="#1d62c2"/><circle cx="21.30" cy="25.90" r="1.15" fill="#f0d43a"/><circle cx="19.75" cy="29.65" r="1.15" fill="#f0d43a"/><circle cx="16.00" cy="31.20" r="1.15" fill="#f0d43a"/><circle cx="12.25" cy="29.65" r="1.15" fill="#f0d43a"/><circle cx="10.70" cy="25.90" r="1.15" fill="#f0d43a"/><circle cx="12.25" cy="22.15" r="1.15" fill="#f0d43a"/><circle cx="16.00" cy="20.60" r="1.15" fill="#f0d43a"/><circle cx="19.75" cy="22.15" r="1.15" fill="#f0d43a"/><text x="40.6" y="32.2" font-size="23.3" fill="#131722" font-family="Liberation Sans, Noto Sans CJK JP, sans-serif" textLength="119" lengthAdjust="spacingAndGlyphs">ユーロ／円</text><text x="168.6" y="32.2" font-size="23.3" fill="#131722" font-family="Liberation Sans, Noto Sans CJK JP, sans-serif" text-anchor="middle">・</text><text x="178.2" y="30.8" font-size="22.5" fill="#131722" font-family="Liberation Sans, Noto Sans CJK JP, sans-serif">1</text><text x="191.2" y="32.2" font-size="23.3" fill="#131722" font-family="Liberation Sans, Noto Sans CJK JP, sans-serif" textLength="46.5" lengthAdjust="spacingAndGlyphs">時間</text><text x="247.6" y="32.2" font-size="23.3" fill="#131722" font-family="Liberation Sans, Noto Sans CJK JP, sans-serif" text-anchor="middle">・</text><text x="255.9" y="30.9" font-size="24" fill="#131722" font-family="Liberation Sans, Noto Sans CJK JP, sans-serif" textLength="59.2" lengthAdjust="spacingAndGlyphs">FXCM</text><path d="M339.3,8 H356 V34.8 H339.3 A13.4,13.4 0 0 1 339.3,8 Z" fill="#dcf1ec"/><path d="M356,8 H372.7 A13.4,13.4 0 0 1 372.7,34.8 H356 Z" fill="#f2b5cc"/><circle cx="342" cy="21.6" r="6" fill="#089981"/><text x="368.6" y="29.5" font-size="22" fill="#e0246f" font-family="Liberation Sans, Noto Sans CJK JP, sans-serif" font-weight="bold" text-anchor="middle">≈</text><text x="398.09999999999997" y="31.0" font-size="19.5" fill="#131722" font-family="Liberation Sans, Noto Sans CJK JP, sans-serif" textLength="38.8" lengthAdjust="spacingAndGlyphs">始値</text><text x="438.4" y="29.1" font-size="19.6" fill="#2962FF" font-family="Liberation Sans, Noto Sans CJK JP, sans-serif" textLength="68.9" lengthAdjust="spacingAndGlyphs">183.447</text><text x="516.9000000000001" y="31.0" font-size="19.5" fill="#131722" font-family="Liberation Sans, Noto Sans CJK JP, sans-serif" textLength="38.1" lengthAdjust="spacingAndGlyphs">高値</text><text x="555.9" y="29.1" font-size="19.6" fill="#2962FF" font-family="Liberation Sans, Noto Sans CJK JP, sans-serif" textLength="69.2" lengthAdjust="spacingAndGlyphs">183.479</text><text x="633.9000000000001" y="31.0" font-size="19.5" fill="#131722" font-family="Liberation Sans, Noto Sans CJK JP, sans-serif" textLength="39.4" lengthAdjust="spacingAndGlyphs">安値</text><text x="673.8" y="29.1" font-size="19.6" fill="#2962FF" font-family="Liberation Sans, Noto Sans CJK JP, sans-serif" textLength="70.1" lengthAdjust="spacingAndGlyphs">183.364</text><text x="751.9000000000001" y="31.0" font-size="19.5" fill="#131722" font-family="Liberation Sans, Noto Sans CJK JP, sans-serif" textLength="39.0" lengthAdjust="spacingAndGlyphs">終値</text><text x="792.5" y="29.1" font-size="19.6" fill="#2962FF" font-family="Liberation Sans, Noto Sans CJK JP, sans-serif" textLength="68.4" lengthAdjust="spacingAndGlyphs">183.395</text><text x="869.6999999999999" y="29.1" font-size="19.6" fill="#2962FF" font-family="Liberation Sans, Noto Sans CJK JP, sans-serif" textLength="58.6" lengthAdjust="spacingAndGlyphs">−0.052</text><text x="934.1999999999999" y="29.1" font-size="19.6" fill="#2962FF" font-family="Liberation Sans, Noto Sans CJK JP, sans-serif" textLength="73.6" lengthAdjust="spacingAndGlyphs">(−0.03%)</text><rect x="6.5" y="46.5" width="99" height="50" rx="8" fill="#fff" stroke="#F23645" stroke-width="1"/><rect x="151.5" y="46.5" width="100" height="50" rx="8" fill="#fff" stroke="#2962FF" stroke-width="1"/><text x="56.6" y="67" font-size="18" fill="#F23645" font-family="Liberation Sans, Noto Sans CJK JP, sans-serif" textLength="67" lengthAdjust="spacingAndGlyphs" font-weight="bold" text-anchor="middle">183.39<tspan font-size="13.5" dy="-2.2">6</tspan></text><text x="56" y="87" font-size="16" fill="#F23645" font-family="Liberation Sans, Noto Sans CJK JP, sans-serif" text-anchor="middle">売り</text><text x="202.4" y="67" font-size="18" fill="#2962FF" font-family="Liberation Sans, Noto Sans CJK JP, sans-serif" textLength="67" lengthAdjust="spacingAndGlyphs" font-weight="bold" text-anchor="middle">183.40<tspan font-size="13.5" dy="-2.2">4</tspan></text><text x="201.5" y="87" font-size="16" fill="#2962FF" font-family="Liberation Sans, Noto Sans CJK JP, sans-serif" text-anchor="middle">買い</text><text x="117.5" y="77" font-size="15" fill="#131722" font-family="Liberation Sans, Noto Sans CJK JP, sans-serif">0.8</text><text x="7" y="128.3" font-size="18.5" fill="#131722" font-family="Liberation Sans, Noto Sans CJK JP, sans-serif" textLength="110" lengthAdjust="spacingAndGlyphs">SMA 90 close</text><circle cx="142.4" cy="121.5" r="13.3" fill="#e9defd"/><path d="M135.3,119.2 A7.5,7.5 0 0 1 149.4,117.2" fill="none" stroke="#7a2df0" stroke-width="2.4"/><path d="M153.6,113.8 L153.2,120.9 L146.9,118.2 Z" fill="#7a2df0"/><path d="M149.9,123.2 A7.5,7.5 0 0 1 135.8,125.2" fill="none" stroke="#7a2df0" stroke-width="2.4"/><path d="M131.6,128.6 L132,121.5 L138.3,124.2 Z" fill="#7a2df0"/><text x="167.5" y="128.3" font-size="18.5" fill="#3326F5" font-family="Liberation Sans, Noto Sans CJK JP, sans-serif" textLength="69" lengthAdjust="spacingAndGlyphs">183.703</text><text x="7" y="164.3" font-size="19" fill="#afafaf" font-family="Liberation Sans, Noto Sans CJK JP, sans-serif" textLength="184.5" lengthAdjust="spacingAndGlyphs">Pivots HL 10 10 10 10</text><g transform="translate(205,148)" fill="none" stroke="#131722" stroke-width="1.7"><path d="M1.5,10 C5,4 10,2.5 13,2.5 C16,2.5 21,4 24.5,10 C21,16 16,17.5 13,17.5 C10,17.5 5,16 1.5,10 Z"/><circle cx="13" cy="10" r="3.2"/><path d="M4,18 L21,1.5"/></g><rect x="6.5" y="180.5" width="41.5" height="28.5" rx="6" fill="#fff" stroke="#e0e3eb"/><path d="M21,198 L27,192.5 L33,198" fill="none" stroke="#131722" stroke-width="2"/><rect x="2313.5" y="3.5" width="64.5" height="36.5" rx="7" fill="#fff" stroke="#e0e3eb"/><text x="2319" y="28" font-size="17" fill="#131722" font-family="Liberation Sans, Noto Sans CJK JP, sans-serif" textLength="27.5" lengthAdjust="spacingAndGlyphs">JPY</text><path d="M2364.5,20 L2368,23.5 L2371.5,20" fill="none" stroke="#131722" stroke-width="1.8"/></svg>
</body></html>
